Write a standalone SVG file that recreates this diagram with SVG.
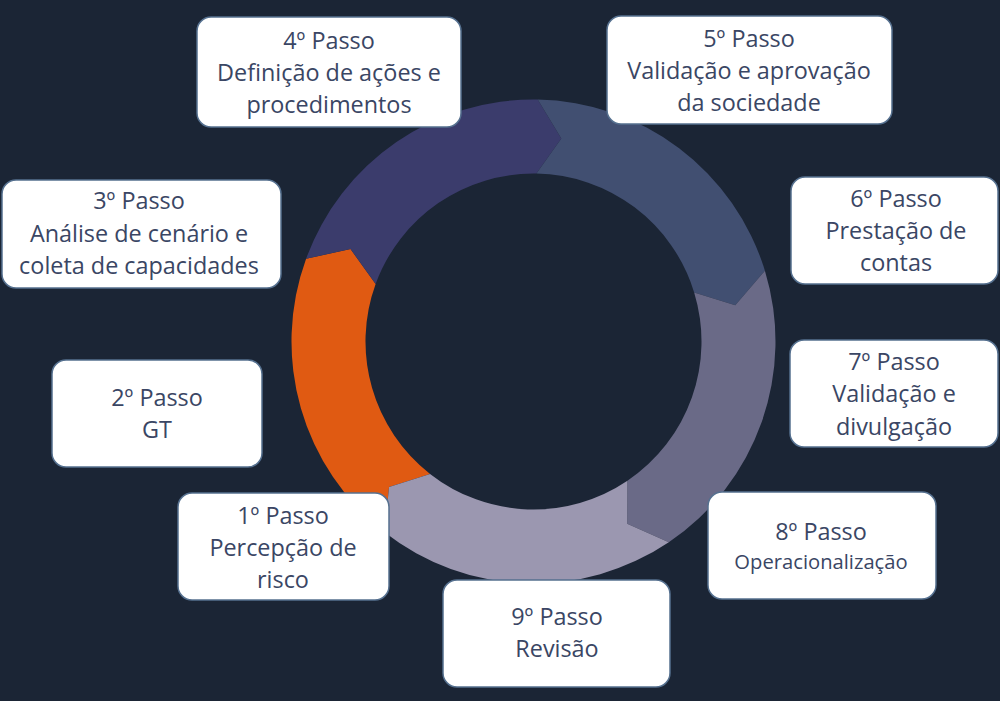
<svg xmlns="http://www.w3.org/2000/svg" width="1000" height="701" viewBox="0 0 1000 701">
  <style>
    .box { fill: #ffffff; stroke: #55708f; stroke-width: 1.5; }
    .t { font-family: "Open Sans", "Noto Sans", "DejaVu Sans", sans-serif; font-size: 23.4px; fill: #3a4664; text-anchor: middle; }
    .ts { font-size: 20.2px; }
  </style>
  <rect x="0" y="0" width="1000" height="701" fill="#1b2535"/>
  <g id="ring">
    <path id="seg-orange" fill="#e05a12" d="M384.51,532.20 A242,242 0 0 1 306.09,258.73 L350.52,249.07 L375.63,284.04 A168,168 0 0 0 430.07,473.89 L389.05,486.96 Z"/>
    <path id="seg-indigo" fill="#3b3c6c" d="M306.09,258.73 A242,242 0 0 1 537.72,99.54 L561.32,138.40 L536.43,173.53 A168,168 0 0 0 375.63,284.04 L350.52,249.07 Z"/>
    <path id="seg-slate" fill="#414f71" d="M537.72,99.54 A242,242 0 0 1 764.92,270.75 L735.26,305.20 L694.16,292.38 A168,168 0 0 0 536.43,173.53 L561.32,138.40 Z"/>
    <path id="seg-gray" fill="#6a6a87" d="M764.92,270.75 A242,242 0 0 1 668.82,542.13 L627.19,523.83 L627.44,480.78 A168,168 0 0 0 694.16,292.38 L735.26,305.20 Z"/>
    <path id="seg-lavender" fill="#9b97b0" d="M668.82,542.13 A242,242 0 0 1 384.51,532.20 L389.05,486.96 L430.07,473.89 A168,168 0 0 0 627.44,480.78 L627.19,523.83 Z"/>
  </g>
  <g id="connectors"></g>
  <g id="step4">
    <rect class="box" x="197" y="17" width="264" height="110" rx="14"/>
    <text class="t" x="329" y="49">4º Passo</text>
    <text class="t" x="329" y="81">Definição de ações e</text>
    <text class="t" x="329" y="113">procedimentos</text>
  </g>
  <g id="step5">
    <rect class="box" x="607" y="16" width="285" height="108" rx="14"/>
    <text class="t" x="749" y="47">5º Passo</text>
    <text class="t" x="749" y="79">Validação e aprovação</text>
    <text class="t" x="749" y="111">da sociedade</text>
  </g>
  <g id="step3">
    <rect class="box" x="2" y="180" width="279" height="108" rx="14"/>
    <text class="t" x="139" y="209">3º Passo</text>
    <text class="t" x="139" y="242">Análise de cenário e</text>
    <text class="t" x="139" y="274">coleta de capacidades</text>
  </g>
  <g id="step6">
    <rect class="box" x="791" y="177" width="207" height="107" rx="14"/>
    <text class="t" x="896" y="207">6º Passo</text>
    <text class="t" x="896" y="239">Prestação de</text>
    <text class="t" x="896" y="271">contas</text>
  </g>
  <g id="step2">
    <rect class="box" x="52" y="360" width="210" height="107" rx="14"/>
    <text class="t" x="157" y="406">2º Passo</text>
    <text class="t" x="157" y="438">GT</text>
  </g>
  <g id="step7">
    <rect class="box" x="790" y="340" width="208" height="107" rx="14"/>
    <text class="t" x="894" y="370">7º Passo</text>
    <text class="t" x="894" y="402">Validação e</text>
    <text class="t" x="894" y="435">divulgação</text>
  </g>
  <g id="step1">
    <rect class="box" x="178" y="493" width="211" height="107" rx="14"/>
    <text class="t" x="283" y="524">1º Passo</text>
    <text class="t" x="283" y="556">Percepção de</text>
    <text class="t" x="283" y="588">risco</text>
  </g>
  <g id="step8">
    <rect class="box" x="708" y="492" width="228" height="107" rx="14"/>
    <text class="t" x="821" y="540">8º Passo</text>
    <text class="t ts" x="821" y="569">Operacionalização</text>
  </g>
  <g id="step9">
    <rect class="box" x="443" y="580" width="227" height="107" rx="14"/>
    <text class="t" x="557" y="625">9º Passo</text>
    <text class="t" x="557" y="657">Revisão</text>
  </g>
</svg>
